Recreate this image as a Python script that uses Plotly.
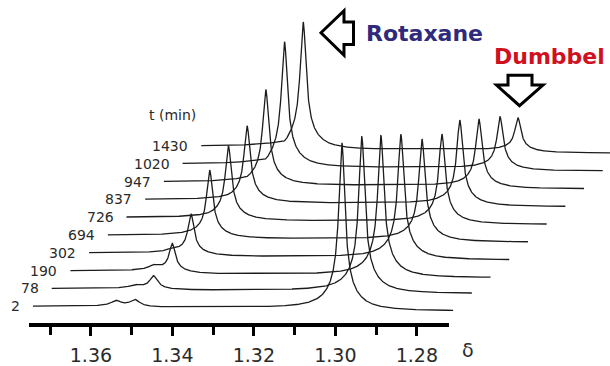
import numpy as np
import plotly.graph_objects as go

W, H = 610, 366

# ---------------- data ----------------
times = ["2", "78", "190", "302", "694", "726", "837", "947", "1020", "1430"]
minor_ppm = 1.3548
minor_height = [6, 4, 6, 5, 5, 5, 5, 5, 5, 5]
rotaxane_ppm = [1.3502] * 10
rotaxane_height = [7, 13, 28, 40, 67, 74, 76, 95, 126, 128]
dumbbell_ppm = [1.2994, 1.2991, 1.2990, 1.2987, 1.2981, 1.2978, 1.2980, 1.2979, 1.2973, 1.2975]
dumbbell_height = [167, 155, 138, 121, 98, 85, 81, 64, 48, 29]

major_ticks = [1.36, 1.34, 1.32, 1.30, 1.28]
tick_labels = ["1.36", "1.34", "1.32", "1.30", "1.28"]
minor_ticks = [1.37, 1.35, 1.33, 1.31, 1.29]

# ---------------- geometry / style constants ----------------
PX_PER_PPM = 4075.0
AXIS_PPM = (1.3752, 1.2721)
AXIS_PX = (29, 449)
AXIS_Y_PX = 330
SPEC_START_PX = 33
DX_PX = 18.7
DY_PX = 18.2
BASE0_PX = 313
LABEL_GAP = 11
G_NARROW = 3.5 / PX_PER_PPM
G_BROAD = 15.0 / PX_PER_PPM
G_STEP = 12.0 / PX_PER_PPM
STEP = 3.5
SMALL_WIDEN = 20.0  # small bumps look rounder than the big peaks

full_left = AXIS_PPM[0] + AXIS_PX[0] / PX_PER_PPM
full_right = AXIS_PPM[0] - (W - AXIS_PX[0]) / PX_PER_PPM


def shape(d, h):
    w = 1.0 + 0.8 * max(0.0, 1.0 - h / SMALL_WIDEN)
    gn = G_NARROW * w
    return 0.85 / (1 + (d / gn) ** 2) + 0.15 / (1 + (d / G_BROAD) ** 2)


def step(d):
    return -(0.5 + np.arctan(d / G_STEP) / np.pi)


def spectrum(ppm, peaks):
    out = np.zeros_like(ppm)
    comps = []
    for p0, h in peaks:
        comps.append((p0, h, STEP * min(1.0, h / 30.0)))
    for k, (p0, h, s) in enumerate(comps):
        other = 0.0
        for j, (q0, hq, sq) in enumerate(comps):
            if j != k:
                other += hq * shape(q0 - p0, hq) + sq * step(q0 - p0)
        amp = h - other - s * step(0.0)
        out += amp * shape(p0 - ppm, h) + s * step(p0 - ppm)
    return out


fig = go.Figure()
ppm = np.linspace(AXIS_PPM[0], AXIS_PPM[1], 2000)
annotations = []
for i, t in enumerate(times):
    peaks = [(minor_ppm, minor_height[i]),
             (rotaxane_ppm[i], rotaxane_height[i]),
             (dumbbell_ppm[i], dumbbell_height[i])]
    sig = spectrum(ppm, peaks)
    shift = (SPEC_START_PX - AXIS_PX[0] + i * DX_PX) / PX_PER_PPM
    base = (H - BASE0_PX) + i * DY_PX
    x = ppm - shift
    y = base + sig
    fig.add_trace(go.Scatter(x=x, y=y, mode="lines",
                             line=dict(color="#1c1c1c", width=1.3),
                             hoverinfo="skip", showlegend=False))
    annotations.append(dict(x=x[0], y=base, xref="x", yref="y", text=t,
                            showarrow=False, xanchor="right", yanchor="middle",
                            xshift=-LABEL_GAP,
                            font=dict(family="DejaVu Sans", size=14, color="#2a2a2a")))

# invisible trace to carry the visible delta axis
fig.add_trace(go.Scatter(x=list(AXIS_PPM), y=[0, 0], xaxis="x2", yaxis="y2",
                         mode="lines", line=dict(width=0, color="rgba(0,0,0,0)"),
                         hoverinfo="skip", showlegend=False))


def px(xp):
    return xp / W


def py(yp):
    return 1 - yp / H


annotations += [
    dict(x=px(172), y=py(118), xref="paper", yref="paper", text="t (min)",
         showarrow=False, xanchor="center", yanchor="middle",
         font=dict(family="DejaVu Sans", size=14, color="#2a2a2a")),
    dict(x=px(364), y=py(34), xref="paper", yref="paper", text="Rotaxane",
         showarrow=False, xanchor="left", yanchor="middle",
         font=dict(family="DejaVu Sans", size=22, color="#2f2a7c", weight="bold")),
    dict(x=px(492), y=py(58), xref="paper", yref="paper", text="Dumbbel",
         showarrow=False, xanchor="left", yanchor="middle",
         font=dict(family="DejaVu Sans", size=22, color="#d0101e", weight="bold")),
    dict(x=px(468), y=py(358), xref="paper", yref="paper", text="δ",
         showarrow=False, xanchor="center", yanchor="middle",
         font=dict(family="DejaVu Sans", size=19, color="#2a2a2a")),
]


def path(points):
    return "M " + " L ".join(f"{px(a):.5f},{py(b):.5f}" for a, b in points) + " Z"


left_arrow = [(321, 33.5), (344, 11), (344, 22.5), (353.5, 22.5), (353.5, 45.5),
              (344, 45.5), (344, 56.5)]
down_arrow = [(508, 77), (532, 77), (532, 87), (543, 87), (519.5, 108),
              (496.5, 87), (508, 87)]
shapes = [dict(type="path", xref="paper", yref="paper", path=path(p),
               line=dict(color="black", width=3), fillcolor="rgba(0,0,0,0)")
          for p in (left_arrow, down_arrow)]

fig.update_layout(
    width=W, height=H, autosize=False,
    margin=dict(l=0, r=0, t=0, b=0),
    paper_bgcolor="white", plot_bgcolor="rgba(0,0,0,0)",
    xaxis=dict(domain=[0, 1], range=[full_left, full_right], visible=False),
    yaxis=dict(domain=[0, 1], range=[0, H], visible=False),
    xaxis2=dict(domain=[AXIS_PX[0] / W, AXIS_PX[1] / W], range=list(AXIS_PPM),
                anchor="y2", showline=True, linecolor="black", linewidth=3.5,
                ticks="outside", tickmode="array", tickvals=major_ticks,
                ticktext=tick_labels, ticklen=9, tickwidth=2.5, tickcolor="black",
                ticklabelstandoff=4,
                minor=dict(tickmode="array", tickvals=minor_ticks, ticks="outside",
                           ticklen=8, tickwidth=2.5, tickcolor="black", showgrid=False),
                showgrid=False, zeroline=False,
                tickfont=dict(family="DejaVu Sans", size=19, color="#2a2a2a")),
    yaxis2=dict(domain=[1 - AXIS_Y_PX / H, 1], range=[0, 1], visible=False),
    annotations=annotations,
    shapes=shapes,
)

fig.write_html("out.html", config={"displayModeBar": False},
               post_script="document.body.style.margin='0';document.body.style.overflow='hidden';")
